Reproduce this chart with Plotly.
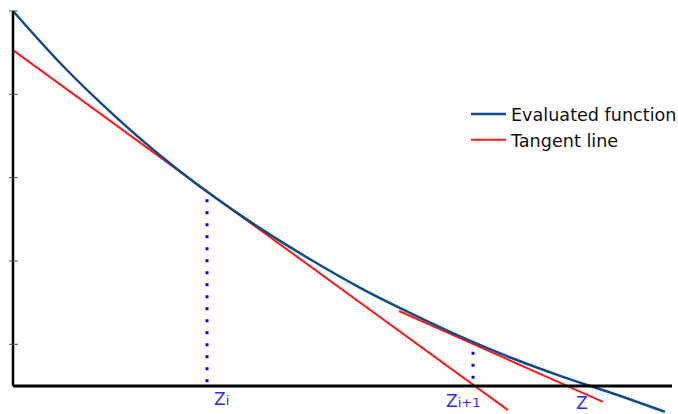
import plotly.graph_objects as go

# Evaluated function, sampled along the horizontal axis
curve_x = [0.0, 0.5, 1.0, 1.5, 2.0, 2.5, 3.0, 3.5, 4.0, 4.5, 5.0, 5.5, 6.0, 6.52]
curve_y = [4.50, 3.84, 3.26, 2.74, 2.28, 1.87, 1.50, 1.16, 0.86, 0.58, 0.33, 0.11, -0.09, -0.31]

# Tangent line at z_i and tangent line at z_{i+1} (end points)
tan1_x = [0.0, 4.95]
tan1_y = [4.03, -0.29]
tan2_x = [3.86, 5.90]
tan2_y = [0.90, -0.19]

# Iterates marked on the horizontal axis
iter_x = [1.94, 4.60]
iter_y = [2.32, 0.49]
iter_labels = ["Z<span style='font-size:13px'>i</span>",
               "Z<span style='font-size:13px'>i+1</span>"]
root_x = 5.68
root_label = "Z"

y_ticks = [0.5, 1.5, 2.5, 3.5, 4.5]
x_axis_end = 6.59

BLUE = "#0f4c8a"
RED = "#ff1a1a"
DOTS = "#0000ff"
LABEL = "#2a2aff"

fig = go.Figure()

fig.add_trace(go.Scatter(x=tan1_x, y=tan1_y, mode="lines", name="Tangent line",
                         line=dict(color=RED, width=2), legendrank=2))
fig.add_trace(go.Scatter(x=tan2_x, y=tan2_y, mode="lines", name="Tangent line",
                         line=dict(color=RED, width=2), showlegend=False))
fig.add_trace(go.Scatter(x=curve_x, y=curve_y, mode="lines", name="Evaluated function",
                         line=dict(color=BLUE, width=2.5, shape="spline"), legendrank=1))

# Dotted drops from the curve to the axis
for xv, yv in zip(iter_x, iter_y):
    fig.add_trace(go.Scatter(x=[xv, xv], y=[yv - 0.08, 0], mode="lines", showlegend=False,
                             line=dict(color=DOTS, width=3, dash="3px,9px")))

shapes = [
    dict(type="line", x0=0, x1=0, y0=0, y1=max(y_ticks), xref="x", yref="y",
         line=dict(color="black", width=2.5)),
    dict(type="line", x0=0, x1=x_axis_end, y0=0, y1=0, xref="x", yref="y",
         line=dict(color="black", width=3)),
]
for t in y_ticks:
    shapes.append(dict(type="line", x0=-0.04, x1=0.05, y0=t, y1=t, xref="x", yref="y",
                       line=dict(color="#555555", width=1)))

label_font = dict(family="DejaVu Sans", size=17, color=LABEL)
annotations = [
    dict(x=iter_x[0], y=0, xref="x", yref="y", text=iter_labels[0], showarrow=False,
         xanchor="left", yanchor="middle", xshift=5, yshift=-13, font=label_font),
    dict(x=iter_x[1], y=0, xref="x", yref="y", text=iter_labels[1], showarrow=False,
         xanchor="left", yanchor="middle", xshift=-29, yshift=-15, font=label_font),
    dict(x=root_x, y=0, xref="x", yref="y", text=root_label, showarrow=False,
         xanchor="center", yanchor="middle", xshift=1, yshift=-17, font=label_font),
]

fig.update_layout(
    width=678, height=414,
    margin=dict(l=0, r=0, t=0, b=0, autoexpand=False),
    paper_bgcolor="white", plot_bgcolor="white",
    xaxis=dict(range=[-0.13, 6.65], visible=False),
    yaxis=dict(range=[-0.336, 4.632], visible=False),
    shapes=shapes,
    annotations=annotations,
    showlegend=True,
    legend=dict(x=466 / 678, y=1 - 96 / 414, xanchor="left", yanchor="top",
                bgcolor="rgba(0,0,0,0)", itemwidth=35,
                font=dict(family="DejaVu Sans", size=17.6, color="#111111")),
)

fig.write_html("out.html")
